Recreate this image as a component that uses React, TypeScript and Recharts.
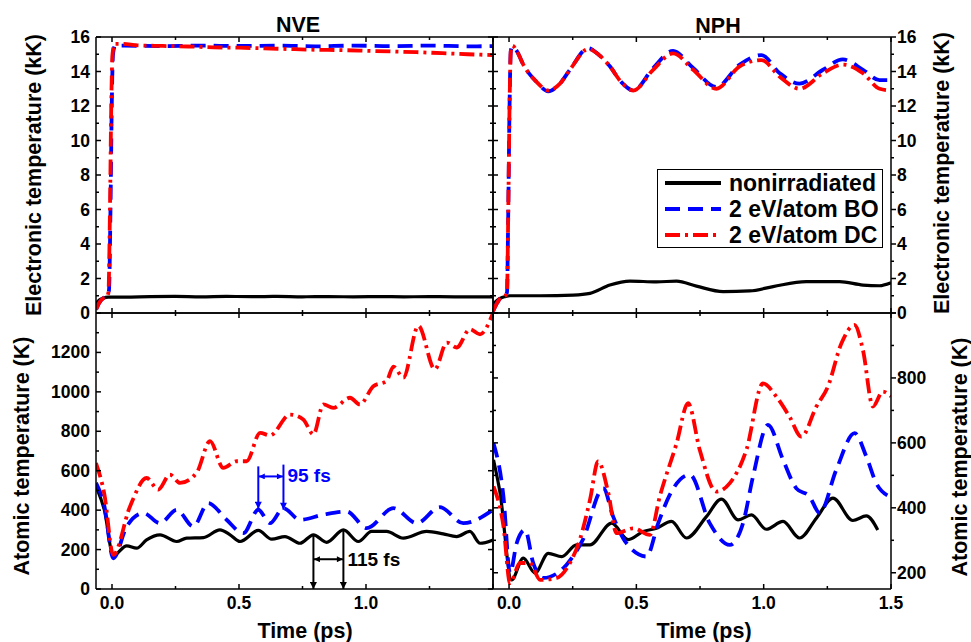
import React from 'react';
import { LineChart, Line, XAxis, YAxis, ReferenceLine, ReferenceDot, Legend } from 'recharts';

const W = 971;
const H = 642;
const FONT = '"Liberation Sans", Arial, sans-serif';
const X_DOMAIN: [number, number] = [-0.063, 1.5];

// tick values
const timeTicks = [0, 0.25, 0.5, 0.75, 1.0, 1.25, 1.5];
const elecTicks = [0, 1, 2, 3, 4, 5, 6, 7, 8, 9, 10, 11, 12, 13, 14, 15, 16];
const atomTicksNVE = [0, 100, 200, 300, 400, 500, 600, 700, 800, 900, 1000, 1100, 1200, 1300, 1400];
const atomTicksNPH = [200, 300, 400, 500, 600, 700, 800, 900, 1000];

// NVE, electronic temperature (kK) -- [time ps, value]
const nveElecNon = [
  [-0.063, 0.55], [-0.05, 0.75], [-0.035, 0.86], [-0.015, 0.92], [0.05, 0.92], [0.15, 0.95], [0.25, 0.96],
  [0.35, 0.94], [0.45, 0.96], [0.55, 0.95], [0.65, 0.96], [0.75, 0.94], [0.85, 0.95], [0.95, 0.94],
  [1.05, 0.95], [1.15, 0.94], [1.25, 0.95], [1.35, 0.94], [1.45, 0.94], [1.5, 0.94],
];
const nveElecBO = [
  [-0.063, 0.2], [-0.05, 0.6], [-0.035, 0.85], [-0.02, 0.95], [-0.012, 1.3], [-0.006, 6], [-0.001, 12],
  [0.004, 15.0], [0.012, 15.5], [0.05, 15.5], [0.2, 15.47], [0.35, 15.5], [0.5, 15.48], [0.65, 15.5],
  [0.8, 15.46], [0.95, 15.5], [1.1, 15.47], [1.25, 15.5], [1.4, 15.46], [1.5, 15.47],
];
const nveElecDC = [
  [-0.063, 0.2], [-0.05, 0.6], [-0.035, 0.85], [-0.02, 0.95], [-0.014, 1.2], [-0.008, 6], [-0.003, 12],
  [0.002, 15.0], [0.01, 15.6], [0.04, 15.6], [0.1, 15.52], [0.2, 15.48], [0.3, 15.45], [0.4, 15.4],
  [0.5, 15.38], [0.6, 15.34], [0.7, 15.3], [0.8, 15.26], [0.9, 15.24], [1.0, 15.2], [1.1, 15.16],
  [1.2, 15.12], [1.3, 15.06], [1.4, 15.0], [1.5, 14.95],
];

// NPH, electronic temperature (kK)
const nphElecNon = [
  [-0.063, 0.5], [-0.045, 0.75], [-0.035, 0.85], [-0.015, 0.95], [0.004, 1.0], [0.122, 1.0], [0.252, 1.04],
  [0.318, 1.14], [0.396, 1.62], [0.475, 1.85], [0.579, 1.8], [0.658, 1.85], [0.736, 1.56], [0.841, 1.24],
  [0.945, 1.28], [1.037, 1.53], [1.167, 1.82], [1.298, 1.82], [1.39, 1.62], [1.455, 1.58], [1.5, 1.75],
];
const nphElecBO = [
  [-0.063, 0.1], [-0.05, 0.5], [-0.035, 0.85], [-0.015, 1.0], [-0.008, 1.2], [-0.003, 6], [0.002, 12],
  [0.007, 15.2], [0.013, 15.45], [0.03, 15.2], [0.056, 14.4], [0.108, 13.4], [0.154, 12.85], [0.2, 13.3],
  [0.239, 14.1], [0.311, 15.35], [0.35, 15.0], [0.396, 14.3], [0.44, 13.4], [0.488, 12.9], [0.566, 14.2],
  [0.644, 15.2], [0.723, 14.2], [0.814, 13.1], [0.906, 14.4], [0.991, 14.95], [1.063, 13.9], [1.141, 13.3],
  [1.233, 14.1], [1.311, 14.7], [1.39, 14.1], [1.455, 13.5], [1.5, 13.5],
];
const nphElecDC = [
  [-0.063, 0.1], [-0.05, 0.5], [-0.035, 0.85], [-0.015, 1.0], [-0.008, 1.2], [-0.003, 6], [0.002, 12],
  [0.007, 15.2], [0.013, 15.5], [0.03, 15.2], [0.056, 14.4], [0.108, 13.4], [0.154, 12.9], [0.2, 13.3],
  [0.239, 14.1], [0.311, 15.3], [0.35, 15.0], [0.396, 14.3], [0.44, 13.4], [0.488, 12.9], [0.566, 14.1],
  [0.644, 15.05], [0.723, 14.1], [0.814, 13.0], [0.906, 14.3], [0.991, 14.66], [1.063, 13.7], [1.141, 13.0],
  [1.233, 13.9], [1.311, 14.4], [1.39, 13.9], [1.455, 13.0], [1.5, 12.9],
];

// NVE, atomic temperature (K)
const nveAtomNon = [
  [-0.063, 521], [-0.03, 400], [0.005, 170], [0.058, 219], [0.097, 207], [0.136, 249], [0.189, 275],
  [0.255, 241], [0.294, 258], [0.36, 261], [0.425, 300], [0.465, 275], [0.504, 241], [0.576, 297],
  [0.629, 253], [0.681, 266], [0.74, 232], [0.793, 275], [0.845, 237], [0.911, 300], [0.97, 241],
  [1.022, 292], [1.081, 292], [1.147, 258], [1.239, 292], [1.304, 280], [1.357, 266], [1.409, 292],
  [1.449, 232], [1.5, 249],
];
const nveAtomBO = [
  [-0.063, 538], [-0.03, 420], [0.005, 156], [0.058, 317], [0.124, 385], [0.189, 334], [0.255, 402],
  [0.32, 317], [0.379, 436], [0.451, 351], [0.517, 283], [0.576, 402], [0.622, 334], [0.675, 410],
  [0.74, 351], [0.832, 377], [0.924, 393], [1.003, 309], [1.108, 410], [1.2, 334], [1.291, 415],
  [1.383, 334], [1.5, 402],
];
const nveAtomDC = [
  [-0.063, 639], [-0.03, 480], [0.005, 173], [0.071, 419], [0.136, 563], [0.182, 504], [0.228, 580],
  [0.268, 538], [0.333, 589], [0.386, 750], [0.438, 614], [0.491, 648], [0.53, 648], [0.583, 792],
  [0.622, 779], [0.701, 885], [0.753, 860], [0.793, 784], [0.832, 936], [0.871, 919], [0.937, 970],
  [0.976, 936], [1.029, 1029], [1.081, 1055], [1.108, 1128], [1.147, 1072], [1.206, 1335],
  [1.271, 1114], [1.318, 1250], [1.357, 1225], [1.409, 1318], [1.449, 1292], [1.5, 1400],
];

// NPH, atomic temperature (K)
const nphAtomNon = [
  [-0.061, 548], [-0.035, 445], [0.01, 178], [0.056, 245], [0.102, 199], [0.154, 260], [0.207, 250],
  [0.265, 286], [0.318, 286], [0.403, 353], [0.468, 302], [0.527, 327], [0.579, 337], [0.638, 358],
  [0.697, 307], [0.775, 373], [0.834, 427], [0.9, 363], [0.952, 378], [1.01, 334], [1.076, 358],
  [1.141, 307], [1.207, 368], [1.272, 430], [1.35, 361], [1.403, 375], [1.448, 332],
];
const nphAtomBO = [
  [-0.061, 599], [-0.022, 435], [0.004, 199], [0.03, 291], [0.063, 332], [0.095, 230], [0.135, 184],
  [0.226, 225], [0.29, 302], [0.37, 460], [0.409, 373], [0.461, 291], [0.54, 250], [0.586, 353],
  [0.631, 440], [0.71, 502], [0.788, 353], [0.867, 286], [0.919, 353], [0.958, 496], [1.017, 655],
  [1.076, 548], [1.128, 460], [1.18, 435], [1.22, 384], [1.285, 517], [1.357, 630], [1.403, 558],
  [1.442, 476], [1.494, 435],
];
const nphAtomDC = [
  [-0.061, 466], [-0.022, 343], [0.004, 168], [0.043, 230], [0.082, 230], [0.122, 178], [0.187, 184],
  [0.239, 230], [0.278, 302], [0.318, 425], [0.35, 543], [0.39, 445], [0.422, 322], [0.488, 337],
  [0.553, 317], [0.592, 435], [0.658, 599], [0.703, 722], [0.749, 578], [0.814, 450], [0.867, 476],
  [0.932, 578], [0.997, 783], [1.05, 742], [1.102, 680], [1.148, 619], [1.207, 712], [1.252, 773],
  [1.305, 906], [1.357, 963], [1.39, 885], [1.429, 712], [1.468, 758], [1.5, 743],
];

const seriesNames = ['nonirradiated', '2 eV/atom BO', '2 eV/atom DC'];
const seriesColors = ['#000000', '#0000ff', '#ff0000'];
const seriesDash = [undefined, '15 8', '15 5 3 5'];
const seriesWidth = [3.2, 3.8, 3.8];

const toRows = (pts: number[][]) => pts.map(([t, v]) => ({ t, v }));

type Side = 'left' | 'right' | 'top' | 'bottom';
const tickFn = (side: Side, inward: boolean, isMajor: (v: number) => boolean, fmt?: (v: number) => string | null) =>
  (p: any) => {
    const v = Number(p.payload.value);
    const x = p.x;
    const y = p.y;
    const len = isMajor(v) ? 5 : 3;
    const s = inward ? 1 : -1;
    let x2 = x;
    let y2 = y;
    if (side === 'left') x2 = x + s * len;
    if (side === 'right') x2 = x - s * len;
    if (side === 'top') y2 = y + s * len;
    if (side === 'bottom') y2 = y - s * len;
    const txt = fmt ? fmt(v) : null;
    const common = { fontFamily: FONT, fontWeight: 700, fontSize: 17.5, fill: '#000' };
    let label = null;
    if (txt != null) {
      if (side === 'left') label = <text x={x - 6} y={y + 6} textAnchor="end" {...common}>{txt}</text>;
      if (side === 'right') label = <text x={x + 6} y={y + 6} textAnchor="start" {...common}>{txt}</text>;
      if (side === 'bottom') label = <text x={x} y={y + 20} textAnchor="middle" {...common}>{txt}</text>;
    }
    return (
      <g>
        <line x1={x} y1={y} x2={x2} y2={y2} stroke="#000" strokeWidth={1.5} />
        {label}
      </g>
    );
  };

const hText = (s: string, x: number, y: number) => () => (
  <text x={x} y={y} textAnchor="middle" fontFamily={FONT} fontWeight={700} fontSize={21.5} fill="#000">{s}</text>
);
const vText = (s: string, cx: number, cy: number) => () => (
  <text transform={`translate(${cx},${cy}) rotate(-90)`} textAnchor="middle" dominantBaseline="central"
    fontFamily={FONT} fontWeight={700} fontSize={21.5} fill="#000">{s}</text>
);

const AX = { stroke: '#000', strokeWidth: 1.5 };
const majorTime = (v: number) => Math.abs(v * 2 - Math.round(v * 2)) < 1e-6;
const fmtTime = (v: number) => v.toFixed(1);

type PanelProps = {
  margin: { top: number; bottom: number; left: number; right: number };
  yDomain: [number, number];
  yTicks: number[];
  yMajor: (v: number) => boolean;
  yFmt: (v: number) => string | null;
  isRight: boolean;
  showX: boolean;
  series: number[][][];
  topLabel?: any;
  bottomLabel?: any;
  sideLabel?: any;
  children?: React.ReactNode;
};

function Panel({ margin, yDomain, yTicks, yMajor, yFmt, isRight, showX, series, topLabel, bottomLabel, sideLabel, children }: PanelProps) {
  const yId = isRight ? 'r' : 'l';
  const xFmt = (v: number) => (majorTime(v) && (isRight || v < 1.4) ? fmtTime(v) : null);
  return (
    <div style={{ position: 'absolute', left: 0, top: 0 }}>
      <LineChart width={W} height={H} margin={margin}>
        <XAxis xAxisId="b" dataKey="t" type="number" domain={X_DOMAIN} allowDataOverflow ticks={timeTicks}
          interval={0} tickSize={0} tickMargin={0} tickLine={false} axisLine={AX} height={30}
          tick={tickFn('bottom', true, majorTime, showX ? xFmt : undefined)}
          label={bottomLabel} />
        <XAxis xAxisId="t" orientation="top" dataKey="t" type="number" domain={X_DOMAIN} allowDataOverflow
          ticks={timeTicks} interval={0} tickSize={0} tickMargin={0} tickLine={false} axisLine={AX} height={30}
          tick={tickFn('top', true, majorTime)} label={topLabel} />
        <YAxis yAxisId="l" type="number" domain={yDomain} allowDataOverflow ticks={yTicks} interval={0}
          tickSize={0} tickMargin={0} tickLine={false} axisLine={AX} width={40}
          tick={tickFn('left', true, yMajor, isRight ? undefined : yFmt)} label={isRight ? undefined : sideLabel} />
        <YAxis yAxisId="r" orientation="right" type="number" domain={yDomain} allowDataOverflow ticks={yTicks}
          interval={0} tickSize={0} tickMargin={0} tickLine={false} axisLine={AX} width={40}
          tick={tickFn('right', !isRight, yMajor, isRight ? yFmt : undefined)} label={isRight ? sideLabel : undefined} />
        {series.map((pts, i) => (
          <Line key={seriesNames[i]} name={seriesNames[i]} xAxisId="b" yAxisId={yId} data={toRows(pts)} dataKey="v"
            type="monotone" stroke={seriesColors[i]} strokeWidth={seriesWidth[i]} strokeDasharray={seriesDash[i]}
            dot={false} activeDot={false} isAnimationActive={false} />
        ))}
        {children}
      </LineChart>
    </div>
  );
}

const LegendBox = ({ payload }: any) => {
  const items = [...(payload || [])].sort(
    (a: any, b: any) => seriesNames.indexOf(a.value) - seriesNames.indexOf(b.value),
  );
  return (
    <div style={{
      border: '1.5px solid #000', background: '#fff', width: 226, height: 79, boxSizing: 'border-box',
      padding: '0 0 0 7px', fontFamily: FONT, fontWeight: 700, fontSize: 23, color: '#000',
    }}>
      {items.map((e: any) => (
        <div key={e.value} style={{ display: 'flex', alignItems: 'center', height: 26 }}>
          <svg width={56} height={10}>
            <line x1={0} y1={5} x2={56} y2={5} stroke={e.color} strokeWidth={3.8}
              strokeDasharray={e.payload?.strokeDasharray} />
          </svg>
          <span style={{ marginLeft: 8, lineHeight: '26px', whiteSpace: 'nowrap' }}>{e.value}</span>
        </div>
      ))}
    </div>
  );
};

const evenMajor = (v: number) => v % 2 === 0;
const fmtElec = (v: number) => (v % 2 === 0 ? String(v) : null);
const m200 = (v: number) => v % 200 === 0;

export default function App() {
  return (
    <div style={{ position: 'fixed', left: 0, top: 0, width: W, height: H, background: '#fff' }}>
      <svg width={0} height={0} style={{ position: 'absolute' }}>
        <defs>
          <marker id="ahBlack" viewBox="0 0 10 10" refX={10} refY={5} markerUnits="userSpaceOnUse"
            markerWidth={10} markerHeight={7} orient="auto-start-reverse">
            <path d="M0,0 L10,5 L0,10 z" fill="#000" />
          </marker>
          <marker id="ahBlue" viewBox="0 0 10 10" refX={10} refY={5} markerUnits="userSpaceOnUse"
            markerWidth={11} markerHeight={7} orient="auto-start-reverse">
            <path d="M0,0 L10,5 L0,10 z" fill="#0000ff" />
          </marker>
          <marker id="ahBlackS" viewBox="0 0 10 10" refX={10} refY={5} markerUnits="userSpaceOnUse"
            markerWidth={7} markerHeight={6} orient="auto-start-reverse">
            <path d="M0,0 L10,5 L0,10 z" fill="#000" />
          </marker>
          <marker id="ahBlueS" viewBox="0 0 10 10" refX={10} refY={5} markerUnits="userSpaceOnUse"
            markerWidth={7} markerHeight={6} orient="auto-start-reverse">
            <path d="M0,0 L10,5 L0,10 z" fill="#0000ff" />
          </marker>
        </defs>
      </svg>

      {/* NVE electronic */}
      <Panel margin={{ top: 7, bottom: 299, left: 56, right: 438 }} yDomain={[0, 16]} yTicks={elecTicks}
        yMajor={evenMajor} yFmt={fmtElec} isRight={false} showX={false}
        series={[nveElecNon, nveElecBO, nveElecDC]}
        topLabel={hText('NVE', 298, 32)} sideLabel={vText('Electronic temperature (kK)', 34, 175)} />

      {/* NPH electronic */}
      <Panel margin={{ top: 7, bottom: 299, left: 453, right: 40 }} yDomain={[0, 16]} yTicks={elecTicks}
        yMajor={evenMajor} yFmt={fmtElec} isRight showX={false}
        series={[nphElecNon, nphElecBO, nphElecDC]}
        topLabel={hText('NPH', 718, 33)} sideLabel={vText('Electronic temperature (kK)', 942, 173)}>
        <Legend layout="vertical" align="center" verticalAlign="middle"
          wrapperStyle={{ left: 657, top: 169, width: 226, height: 79 }} content={LegendBox} />
      </Panel>

      {/* NVE atomic */}
      <Panel margin={{ top: 283, bottom: 23, left: 56, right: 438 }} yDomain={[0, 1400]} yTicks={atomTicksNVE}
        yMajor={m200} yFmt={(v) => (v % 200 === 0 && v <= 1200 ? String(v) : null)} isRight={false} showX
        series={[nveAtomNon, nveAtomBO, nveAtomDC]}
        bottomLabel={hText('Time (ps)', 305, 638)} sideLabel={vText('Atomic temperature (K)', 22, 456)}>
        <ReferenceLine xAxisId="b" yAxisId="l" segment={[{ x: 0.576, y: 622 }, { x: 0.576, y: 407 }]}
          stroke="#0000ff" strokeWidth={2} markerEnd="url(#ahBlue)" />
        <ReferenceLine xAxisId="b" yAxisId="l" segment={[{ x: 0.675, y: 631 }, { x: 0.675, y: 402 }]}
          stroke="#0000ff" strokeWidth={2} markerEnd="url(#ahBlue)" />
        <ReferenceLine xAxisId="b" yAxisId="l" segment={[{ x: 0.578, y: 571 }, { x: 0.673, y: 571 }]}
          stroke="#0000ff" strokeWidth={2} markerStart="url(#ahBlueS)" markerEnd="url(#ahBlueS)" />
        <ReferenceDot xAxisId="b" yAxisId="l" x={0.675} y={578} r={0} fill="none" stroke="none"
          label={{ value: '95 fs', position: 'right', offset: 4, fill: '#0000ff', fontSize: 19, fontWeight: 700, fontFamily: FONT }} />
        <ReferenceLine xAxisId="b" yAxisId="l" segment={[{ x: 0.793, y: 275 }, { x: 0.793, y: 0 }]}
          stroke="#000" strokeWidth={2} markerEnd="url(#ahBlack)" />
        <ReferenceLine xAxisId="b" yAxisId="l" segment={[{ x: 0.911, y: 300 }, { x: 0.911, y: 0 }]}
          stroke="#000" strokeWidth={2} markerEnd="url(#ahBlack)" />
        <ReferenceLine xAxisId="b" yAxisId="l" segment={[{ x: 0.795, y: 151 }, { x: 0.909, y: 151 }]}
          stroke="#000" strokeWidth={2} markerStart="url(#ahBlackS)" markerEnd="url(#ahBlackS)" />
        <ReferenceDot xAxisId="b" yAxisId="l" x={0.911} y={153} r={0} fill="none" stroke="none"
          label={{ value: '115 fs', position: 'right', offset: 4, fill: '#000', fontSize: 19, fontWeight: 700, fontFamily: FONT }} />
      </Panel>

      {/* NPH atomic */}
      <Panel margin={{ top: 283, bottom: 23, left: 453, right: 40 }} yDomain={[150, 1000]} yTicks={atomTicksNPH}
        yMajor={m200} yFmt={(v) => (v % 200 === 0 && v <= 800 ? String(v) : null)} isRight showX
        series={[nphAtomNon, nphAtomBO, nphAtomDC]}
        bottomLabel={hText('Time (ps)', 704, 638)} sideLabel={vText('Atomic temperature (K)', 960, 457)} />
    </div>
  );
}
